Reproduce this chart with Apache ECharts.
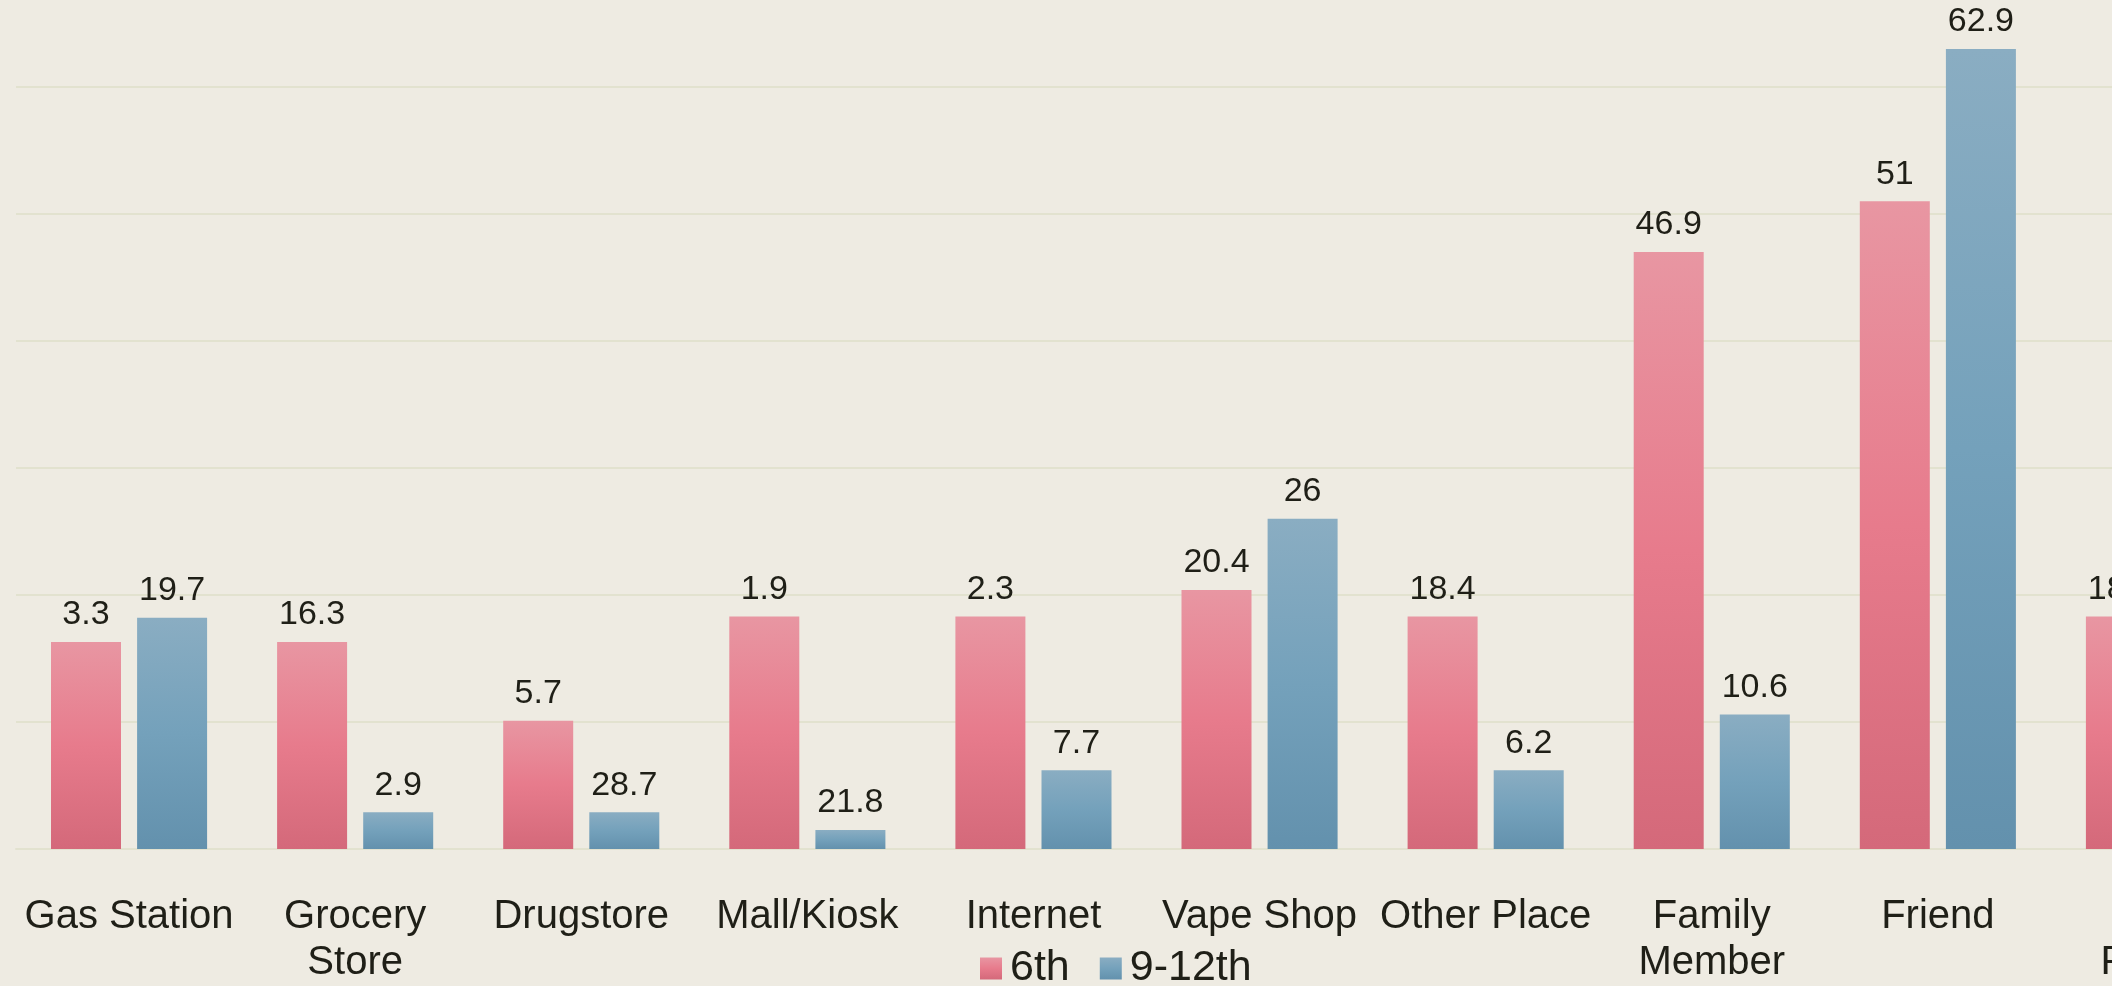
<!DOCTYPE html>
<html>
<head>
<meta charset="utf-8">
<script src="https://cdn.jsdelivr.net/npm/echarts@6/dist/echarts.min.js"></script>
<style>
html,body{margin:0;padding:0;background:#eeebe2;}
#chart{width:2112px;height:986px;}
</style>
</head>
<body>
<div id="chart"></div>
<script>
const categories = ['Gas Station', 'Grocery\nStore', 'Drugstore', 'Mall/Kiosk', 'Internet', 'Vape Shop', 'Other Place', 'Family\nMember', 'Friend', 'Other\nPerson'];
const seriesNames = ['6th', '9-12th'];
const values6th = [16.3, 16.3, 10.1, 18.3, 18.3, 20.4, 18.3, 47.0, 51.0, 18.3];
const values912 = [18.2, 2.9, 2.9, 1.5, 6.2, 26.0, 6.2, 10.6, 63.0, 20.0];
const labels6th = ['3.3', '16.3', '5.7', '1.9', '2.3', '20.4', '18.4', '46.9', '51', '18.3'];
const labels912 = ['19.7', '2.9', '28.7', '21.8', '7.7', '26', '6.2', '10.6', '62.9', '20'];
const yTicks = [0, 10, 20, 30, 40, 50, 60, 70];

const FONT = '"Liberation Sans", Arial, sans-serif';
const chart = echarts.init(document.getElementById('chart'));

function grad(stops) {
  return new echarts.graphic.LinearGradient(0, 0, 0, 1, stops.map((c, i) => ({offset: i / (stops.length - 1), color: c})));
}

chart.setOption({
  backgroundColor: '#eeebe2',
  animation: false,
  grid: {left: 16, width: 2261, top: -40, height: 889, containLabel: false, outerBoundsMode: 'none'},
  legend: {
    data: seriesNames,
    left: 980, top: 947, padding: 0,
    itemWidth: 22, itemHeight: 22, itemGap: 30,
    icon: 'rect',
    textStyle: {fontFamily: FONT, fontSize: 43, color: '#1f1f17', padding: [0, 0, 0, 3]}
  },
  xAxis: {
    type: 'category',
    data: categories,
    axisLine: {show: true, lineStyle: {color: '#e2e2cf', width: 2}},
    axisTick: {show: false},
    axisLabel: {fontFamily: FONT, fontSize: 40, color: '#1f1f17', margin: 45, lineHeight: 46, interval: 0}
  },
  yAxis: {
    type: 'value',
    min: yTicks[0], max: yTicks[yTicks.length - 1], interval: 10,
    axisLine: {show: false}, axisTick: {show: false},
    axisLabel: {show: false},
    splitLine: {lineStyle: {color: '#e2e2cf', width: 2}}
  },
  series: [
    {
      name: seriesNames[0], type: 'bar', data: values6th,
      barWidth: 70, barGap: '23%',
      itemStyle: {color: grad(['#e896a2', '#e77b8c', '#d4697a'])},
      label: {show: true, position: 'top', distance: 10, fontFamily: FONT, fontSize: 34, color: '#1f1f17',
        formatter: p => labels6th[p.dataIndex]}
    },
    {
      name: seriesNames[1], type: 'bar', data: values912,
      barWidth: 70, barGap: '23%',
      itemStyle: {color: grad(['#8aadc2', '#74a1bb', '#6391ad'])},
      label: {show: true, position: 'top', distance: 10, fontFamily: FONT, fontSize: 34, color: '#1f1f17',
        formatter: p => labels912[p.dataIndex]}
    }
  ]
});
</script>
</body>
</html>
